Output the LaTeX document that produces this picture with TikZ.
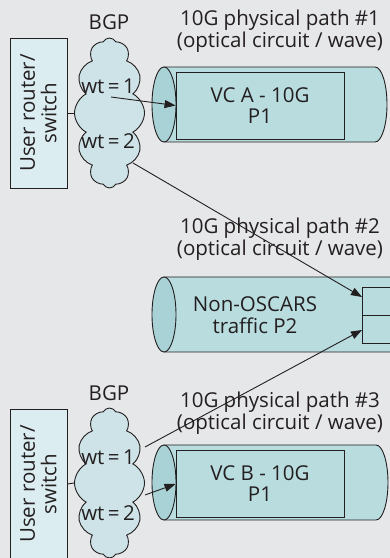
\documentclass[tikz,border=0pt]{standalone}
\usepackage{fontspec}
\setmainfont{Open Sans}
\usetikzlibrary{shapes.symbols,arrows.meta}
\definecolor{bg}{HTML}{E6E7E9}
\definecolor{ln}{HTML}{231F20}
\definecolor{txt}{HTML}{231F20}
\definecolor{routerfill}{HTML}{DCEDF1}
\definecolor{cloudfill}{HTML}{CDE3E7}
\definecolor{cylbody}{HTML}{B9DCDF}
\definecolor{cylend}{HTML}{A8D2D6}
\newcommand\mycyl[3]{%
  \filldraw[fill=cylbody,draw=ln,line width=0.9pt] (#1,{#3+37.5}) -- (#2,{#3+37.5})
    arc[start angle=90,end angle=-90,x radius=12,y radius=37.5] -- (#1,{#3-37.5}) -- cycle;
  \filldraw[fill=cylend,draw=ln,line width=0.9pt] (#1,#3) ellipse[x radius=12,y radius=37.5];
}
\tikzset{
  lbl/.style={font=\fontsize{20.5}{22}\selectfont, text=txt, align=center, inner sep=0pt},
  arr/.style={draw=ln, line width=0.9pt, -{Triangle[length=11pt,width=8pt]}},
  plain/.style={draw=ln, line width=0.9pt},
  routerbox/.style={draw=ln, line width=0.9pt, fill=routerfill, minimum width=150pt,
    minimum height=57pt, rotate=90, inner sep=0pt, align=center, text=txt,
    font=\fontsize{20.5}{21.5}\selectfont},
  bgpcloud/.style={cloud, cloud puffs=12, cloud puff arc=125, cloud ignores aspect,
    draw=ln, fill=cloudfill, minimum width=70pt, minimum height=150pt, inner sep=0pt,
    line width=0.9pt},
  vcbox/.style={draw=ln, fill=cylbody, line width=0.9pt, minimum width=168pt,
    minimum height=67pt, inner sep=0pt, align=center, text=txt,
    font=\fontsize{20.5}{21}\selectfont},
  smallbox/.style={draw=ln, fill=cylbody, line width=0.9pt, minimum width=48pt,
    minimum height=28pt, inner sep=0pt, anchor=west},
}
\begin{document}
\begin{tikzpicture}[x=1pt,y=1pt]
\useasboundingbox (0,0) rectangle (390,558);
\clip (0,0) rectangle (390,558);
\fill[bg] (0,0) rectangle (390,558);

% ---------- top group ----------
\node[routerbox] (router1) at (38.5,445) {User router/\\switch};
\node[bgpcloud] (cloud1) at (109.5,445) {};
\node[lbl] (bgp1) at (109,536) {BGP};
\node[lbl] (wt11) at (108,472) {wt\,=\,1};
\node[lbl] (wt12) at (108,417) {wt\,=\,2};
\draw[plain] (router1.south) -- (cloud1.west);

\mycyl{164}{375}{453.5}
\node[vcbox] (vcA) at (260,452.5) {VC A - 10G\\P1};
\node[lbl] (path1) at (280,527) {10G physical path \#1\\(optical circuit / wave)};

% ---------- middle ----------
\mycyl{164}{410}{243.5}
\node[lbl] (nonoscars) at (255,242.5) {Non-OSCARS\\traffic P2};
\node[lbl] (path2) at (280,319) {10G physical path \#2\\(optical circuit / wave)};
\node[smallbox] (box1) at (362,257) {};
\node[smallbox] (box2) at (362,229) {};

% ---------- bottom group ----------
\node[routerbox] (router2) at (38.5,74) {User router/\\switch};
\node[bgpcloud] (cloud2) at (109.5,75) {};
\node[lbl] (bgp2) at (109,165) {BGP};
\node[lbl] (wt21) at (108,101) {wt\,=\,1};
\node[lbl] (wt22) at (108,45) {wt\,=\,2};
\draw[plain] (router2.south) -- (cloud2.west);

\mycyl{164}{376}{75.5}
\node[vcbox] (vcB) at (260,74) {VC B - 10G\\P1};
\node[lbl] (path3) at (280,145) {10G physical path \#3\\(optical circuit / wave)};

% ---------- connectors ----------
\coordinate (s1) at (111,461);
\coordinate (s2) at (133,395);
\coordinate (s3) at (145,111);
\coordinate (s4) at (145,63);
\draw[arr] (s1) -- (vcA.west);
\draw[arr] (s2) -- ([yshift=4pt]box1.west);
\draw[arr] (s3) -- ([yshift=-1pt]box2.west);
\draw[arr] (s4) -- (vcB.west);
\end{tikzpicture}
\end{document}
